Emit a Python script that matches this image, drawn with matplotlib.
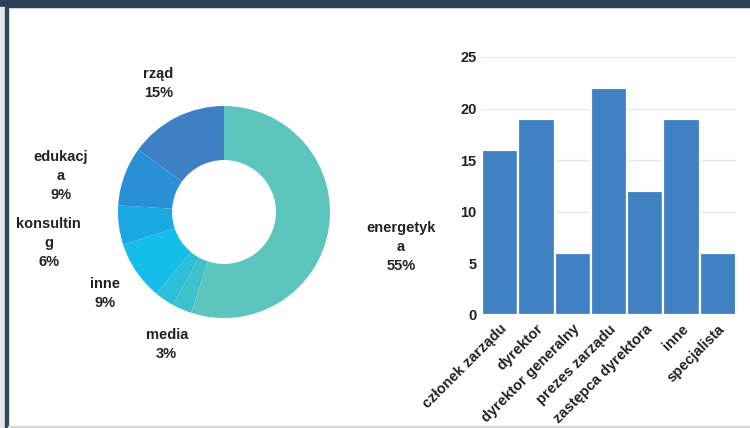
import numpy as np
import matplotlib
matplotlib.use("Agg")
import matplotlib.pyplot as plt
from matplotlib.patches import Rectangle

plt.rcParams["font.family"] = ["Liberation Sans", "DejaVu Sans"]

# Donut: sectors (share in %), clockwise from 12 o'clock
sectors = ["energetyka", "media", "pozostałe", "inne", "konsulting", "edukacja", "rząd"]
sector_share = [55, 3, 3, 9, 6, 9, 15]
sector_labels = ["energetyk\na", "media", None, "inne", "konsultin\ng", "edukacj\na", "rząd"]
sector_colors = ["#5bc5be", "#3fc1cc", "#2cbfd9", "#14bdea", "#19a9e0", "#2a90d5", "#3f80c4"]

# Bars: positions
positions = ["członek zarządu", "dyrektor", "dyrektor generalny", "prezes zarządu",
             "zastępca dyrektora", "inne", "specjalista"]
counts = [16, 19, 6, 22, 12, 19, 6]
y_ticks = [0, 5, 10, 15, 20, 25]
bar_color = "#4081c4"

W, H = 750, 428
fig = plt.figure(figsize=(W / 100, H / 100), dpi=100)
fig.patch.set_facecolor("white")

# Page frame
fig.patches.append(Rectangle((0, 1 - 7 / H), 1, 7 / H, transform=fig.transFigure,
                             color="#2b3f56", zorder=0))
fig.patches.append(Rectangle((0, 0), 5 / W, 1 - 7 / H, transform=fig.transFigure,
                             color="#e4e6e8", zorder=0))
fig.patches.append(Rectangle((5 / W, 0), 2.5 / W, 1 - 7 / H, transform=fig.transFigure,
                             color="#34475c", zorder=0))
fig.patches.append(Rectangle((7.5 / W, 0), 1 - 7.5 / W, 2 / H, transform=fig.transFigure,
                             color="#d6d6d6", zorder=0))

# ---- Donut ----
cx, cy, R = 224, 212, 106
axp = fig.add_axes([(cx - R) / W, (H - cy - R) / H, 2 * R / W, 2 * R / H])
axp.pie(sector_share, colors=sector_colors, startangle=90, counterclock=False,
        radius=1.0, wedgeprops=dict(width=0.51, linewidth=0))
axp.set_xlim(-1, 1)
axp.set_ylim(-1, 1)
axp.set_aspect("equal")
axp.axis("off")

total = float(sum(sector_share))
cum = 0.0
for share, lab in zip(sector_share, sector_labels):
    mid = (cum + share / 2) / total * 2 * np.pi
    cum += share
    if lab is None:
        continue
    s, c = np.sin(mid), np.cos(mid)
    r = 1.36
    x, y = r * s, r * c
    if s > 0.9:
        ha = "left"
    elif s < -0.9:
        ha = "right"
    else:
        ha = "center"
    extra = lab.count("\n")
    y -= 0.12 * extra
    axp.text(x, y, f"{lab}\n{share}%", ha=ha, va="center", multialignment="center",
             fontsize=10.5, fontweight="bold", color="#222222", linespacing=1.45,
             clip_on=False)

# ---- Bars ----
bx0, bx1, by0, by1 = 482, 736, 315, 57
yr = y_ticks[-1]
axb = fig.add_axes([bx0 / W, (H - by0) / H, (bx1 - bx0) / W, (by0 - by1) / H])
xs = np.arange(len(positions))
axb.bar(xs, counts, width=1.0, color=bar_color, edgecolor="white", linewidth=1.6, zorder=3)
axb.set_xlim(-0.5, len(positions) - 0.5)
axb.set_ylim(0, yr)
axb.set_yticks(y_ticks)
axb.set_yticklabels([str(t) for t in y_ticks], fontsize=10.5, fontweight="bold",
                    color="#222222")
axb.set_xticks(xs)
axb.set_xticklabels(positions, rotation=45, ha="right", rotation_mode="anchor",
                    fontsize=10.5, fontweight="bold", color="#222222")
axb.tick_params(axis="both", length=0)
axb.tick_params(axis="y", pad=4)
axb.tick_params(axis="x", pad=5)
axb.grid(axis="y", color="#e8e8e8", linewidth=1, zorder=0)
for sp in axb.spines.values():
    sp.set_visible(False)

fig.savefig("out.png", dpi=100, facecolor="white")
